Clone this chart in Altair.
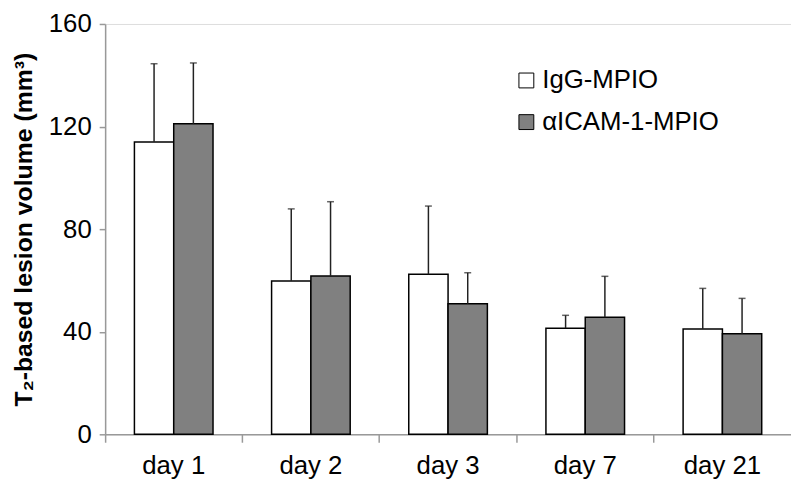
import altair as alt
import pandas as pd

days = ["day 1", "day 2", "day 3", "day 7", "day 21"]
series = ["IgG-MPIO", "αICAM-1-MPIO"]
igg_mean = [114.0, 59.8, 62.4, 41.4, 41.1]
igg_sd = [30.5, 28.1, 26.6, 5.0, 15.8]
icam_mean = [121.1, 61.7, 50.9, 45.6, 39.2]
icam_sd = [23.7, 29.0, 12.1, 16.0, 13.8]
colors = ["#ffffff", "#808080"]
y_ticks = [0, 40, 80, 120, 160]

rows = []
for i, d in enumerate(days):
    rows.append({"day": d, "group": series[0], "mean": igg_mean[i], "upper": igg_mean[i] + igg_sd[i]})
    rows.append({"day": d, "group": series[1], "mean": icam_mean[i], "upper": icam_mean[i] + icam_sd[i]})
df = pd.DataFrame(rows)

FONT = "Liberation Sans"

x_enc = alt.X(
    "day:N",
    sort=days,
    scale=alt.Scale(paddingInner=0, paddingOuter=0),
    axis=alt.Axis(
        title=None, labelAngle=0, bandPosition=0, labelFontSize=26, labelColor="black",
        labelFont=FONT, tickSize=8, tickColor="#999999", domainColor="#999999",
        labelPadding=11, tickWidth=1.5, domainWidth=1.5,
    ),
)
xoff = alt.XOffset("group:N", sort=series,
                   scale=alt.Scale(domain=series, paddingOuter=0.745, paddingInner=0))

y_scale = alt.Scale(domain=[0, 160], nice=False)

bars = alt.Chart(df).mark_bar(stroke="black", strokeWidth=1.5).encode(
    x=x_enc,
    xOffset=xoff,
    y=alt.Y(
        "mean:Q",
        scale=y_scale,
        axis=alt.Axis(
            values=y_ticks, title="T₂-based lesion volume (mm³)", titleFontSize=25,
            titleFont=FONT, titleFontWeight="bold", titleColor="black", titlePadding=12,
            labelFontSize=26, labelFont=FONT, labelColor="black", tickSize=6,
            labelPadding=8, tickColor="#999999", domainColor="#999999", grid=False,
            tickWidth=1.5, domainWidth=1.5,
        ),
    ),
    fill=alt.Fill(
        "group:N",
        sort=series,
        scale=alt.Scale(domain=series, range=colors),
        legend=alt.Legend(
            title=None, orient="none", legendX=412, legendY=44, symbolType="square",
            symbolSize=225, symbolStrokeColor="black", symbolStrokeWidth=1,
            labelFontSize=26, labelFont=FONT, labelColor="black", rowPadding=16,
            labelOffset=3, padding=0, labelLimit=400,
        ),
    ),
)

rules = alt.Chart(df).mark_rule(color="#222222", strokeWidth=1.5).encode(
    x=alt.X("day:N", sort=days),
    xOffset=xoff,
    y=alt.Y("mean:Q", scale=y_scale),
    y2="upper:Q",
)

caps = alt.Chart(df).mark_tick(color="#222222", size=7, thickness=1.5).encode(
    x=alt.X("day:N", sort=days),
    xOffset=xoff,
    y=alt.Y("upper:Q", scale=y_scale),
)

chart = (
    alt.layer(bars, rules, caps)
    .properties(
        width=692, height=414,
        autosize=alt.AutoSizeParams(type="none"),
        padding={"left": 98, "top": 14, "right": 0, "bottom": 46},
    )
    .configure_view(strokeWidth=0)
    .configure(font=FONT)
)

chart.save("out.html", embed_options={"renderer": "svg", "actions": False})
